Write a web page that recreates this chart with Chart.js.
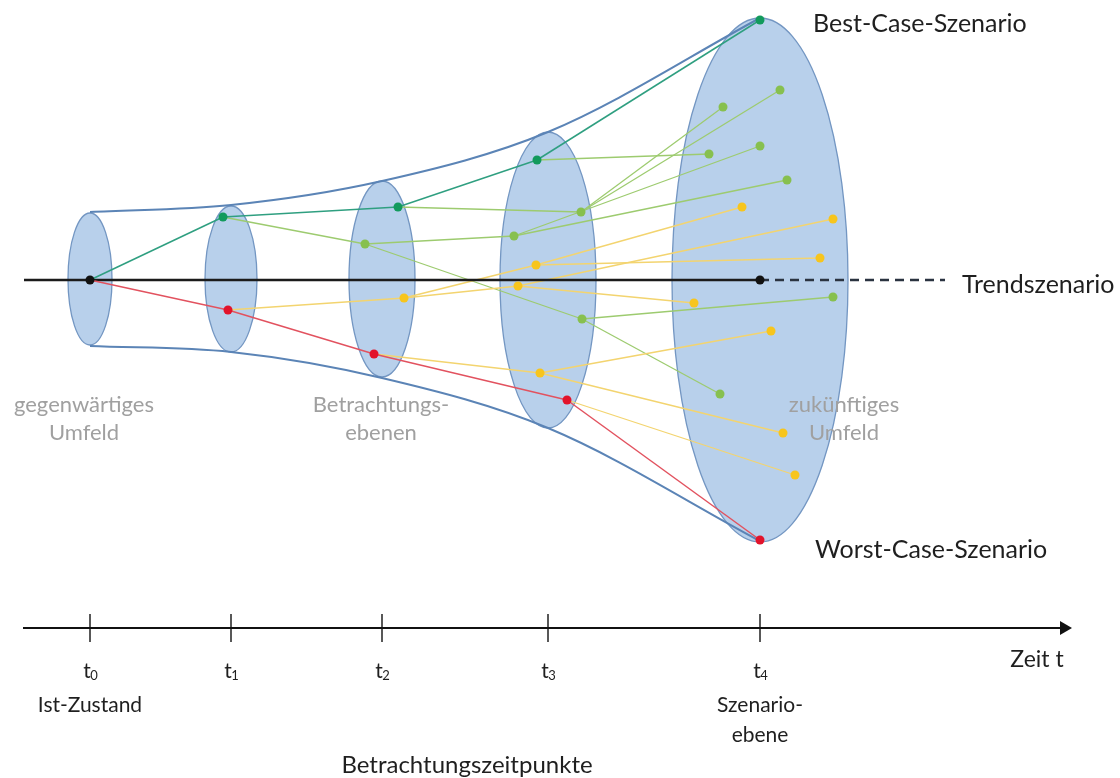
<!DOCTYPE html>
<html lang="de">
<head>
<meta charset="utf-8">
<title>Szenariotrichter</title>
<script src="https://cdn.jsdelivr.net/npm/chart.js@4"></script>
<style>
  html, body { margin: 0; padding: 0; background: #fff; }
  #wrap { width: 1120px; height: 778px; position: relative; }
</style>
</head>
<body>
<div id="wrap"><canvas id="funnel"></canvas></div>
<script>
// Betrachtungszeitpunkte and the cross-section (ellipse) of the funnel at each one
const timeLabels = ["0", "1", "2", "3", "4"];
const timeCaptions = [["Ist-Zustand"], [], [], [], ["Szenario-", "ebene"]];
const levelX = [90, 231, 382, 548, 760];
const levelY = [279, 279, 279, 280, 280];
const levelRx = [22, 26, 33, 48, 88];
const levelRy = [66, 73, 98, 148, 262];

// outline of the funnel at each level
const funnelTop = [212, 205, 181, 132, 18];
const funnelBottom = [346, 352, 378, 428, 541];

// scenario points per level: [x, y, kind]
const level0 = [[90, 280, "trend"]];
const level1 = [[223, 217, "best"], [228, 310, "worst"]];
const level2 = [[398, 207, "best"], [365, 244, "up"], [404, 298, "down"], [374, 354, "worst"]];
const level3 = [
  [537, 160, "best"], [581, 212, "up"], [514, 236, "up"], [536, 265, "down"],
  [518, 286, "down"], [582, 319, "up"], [540, 373, "down"], [567, 400, "worst"]
];
const level4 = [
  [760, 20, "best"], [723, 107, "up"], [780, 90, "up"], [709, 154, "up"], [760, 146, "up"],
  [787, 180, "up"], [742, 207, "down"], [833, 219, "down"], [820, 258, "down"], [760, 280, "trend"],
  [833, 297, "up"], [694, 303, "down"], [771, 331, "down"], [720, 394, "up"], [783, 433, "down"],
  [795, 475, "down"], [760, 540, "worst"]
];
// index of the point on the previous level each point branches from (-1 = none)
const parent1 = [0, 0];
const parent2 = [0, 0, 1, 1];
const parent3 = [0, 0, 1, 2, 2, 1, 3, 3];
const parent4 = [0, 1, 1, 0, 2, 2, 3, 4, 3, -1, 5, 4, 6, 5, 6, 7, 7];

// trend line (solid up to t4, dashed beyond)
const trendY = 280;
const trendSolid = [24, 760];
const trendDashed = [760, 945];

// time axis
const axisY = 628;
const axisRange = [23, 1064];

const levels = [level0, level1, level2, level3, level4];
const parents = [null, parent1, parent2, parent3, parent4];

const kindColor = { best: "#129a5c", up: "#87c04f", down: "#f7c51d", worst: "#e2132b", trend: "#111111" };
const kindLine = { best: "#2f9f80", up: "#9dcb6f", down: "#f3d46f", worst: "#e2525f" };

const datasets = [];

const allPoints = levels.flat();
datasets.push({
  data: allPoints.map(p => ({ x: p[0], y: p[1] })),
  pointBackgroundColor: allPoints.map(p => kindColor[p[2]]),
  pointBorderWidth: 0,
  pointRadius: 4.5,
  showLine: false,
  order: 0
});

for (let k = 1; k < levels.length; k++) {
  levels[k].forEach((p, i) => {
    const j = parents[k][i];
    if (j < 0) return;
    const q = levels[k - 1][j];
    const strong = p[2] === "best" || p[2] === "worst";
    datasets.push({
      type: "line",
      data: [{ x: q[0], y: q[1] }, { x: p[0], y: p[1] }],
      borderColor: kindLine[p[2]],
      borderWidth: strong ? 1.5 : 1.3,
      pointRadius: 0,
      order: strong ? 1 : 2
    });
  });
}

datasets.push({
  type: "line",
  data: trendSolid.map(x => ({ x, y: trendY })),
  borderColor: "#1b1b1b",
  borderWidth: 2.5,
  pointRadius: 0,
  order: 1
});
datasets.push({
  type: "line",
  data: trendDashed.map(x => ({ x, y: trendY })),
  borderColor: "#2a3340",
  borderWidth: 2.5,
  borderDash: [9, 6],
  pointRadius: 0,
  order: 1
});

[funnelTop, funnelBottom].forEach(edge => {
  datasets.push({
    type: "line",
    data: levelX.map((x, i) => ({ x, y: edge[i] })),
    borderColor: "#5b84b6",
    borderWidth: 2,
    pointRadius: 0,
    cubicInterpolationMode: "monotone",
    order: 3
  });
});

// time axis with arrow head and ticks
datasets.push({
  type: "line",
  data: axisRange.map(x => ({ x, y: axisY })),
  borderColor: "#111",
  borderWidth: 2,
  pointRadius: [0, 8],
  pointStyle: "triangle",
  rotation: 90,
  pointBackgroundColor: "#111",
  pointBorderWidth: 0,
  order: 1
});
levelX.forEach(x => {
  datasets.push({
    type: "line",
    data: [{ x, y: axisY - 14 }, { x, y: axisY + 14 }],
    borderColor: "#222",
    borderWidth: 1.5,
    pointRadius: 0,
    order: 1
  });
});

const ellipses = {
  id: "ellipses",
  beforeDatasetsDraw(chart) {
    const { ctx, scales: { x, y } } = chart;
    ctx.save();
    levelX.forEach((cx, i) => {
      const px = x.getPixelForValue(cx);
      const py = y.getPixelForValue(levelY[i]);
      const rx = x.getPixelForValue(cx + levelRx[i]) - px;
      const ry = y.getPixelForValue(levelY[i] + levelRy[i]) - py;
      ctx.beginPath();
      ctx.ellipse(px, py, Math.abs(rx), Math.abs(ry), 0, 0, Math.PI * 2);
      ctx.fillStyle = "#b8d0eb";
      ctx.fill();
      ctx.lineWidth = 1.3;
      ctx.strokeStyle = "#7396c2";
      ctx.stroke();
    });
    ctx.restore();
  }
};

const labels = {
  id: "labels",
  afterDraw(chart) {
    const { ctx, scales: { x, y } } = chart;
    const put = (text, vx, vy, size, color, align) => {
      ctx.font = size + "px Lato, 'Open Sans', sans-serif";
      ctx.fillStyle = color;
      ctx.textAlign = align || "center";
      ctx.textBaseline = "middle";
      ctx.fillText(text, x.getPixelForValue(vx), y.getPixelForValue(vy));
    };
    const dark = "#1f1f1f";
    ctx.save();
    put("Best-Case-Szenario", 813, 24, 25, dark, "left");
    put("Trendszenario", 962, 285, 25, dark, "left");
    put("Worst-Case-Szenario", 815, 550, 25, dark, "left");

    const grey = "#a0a0a0";
    put("gegenwärtiges", 84, 405, 22, grey);
    put("Umfeld", 84, 433, 22, grey);
    put("Betrachtungs-", 381, 405, 22, grey);
    put("ebenen", 381, 433, 22, grey);
    put("zukünftiges", 844, 405, 22, grey);
    put("Umfeld", 844, 433, 22, grey);

    levelX.forEach((lx, i) => {
      put("t", lx - 3, 671, 21, dark);
      put(timeLabels[i], lx + 4, 676, 13, dark);
      timeCaptions[i].forEach((line, n) => put(line, lx, 705 + n * 30, 21, dark));
    });
    put("Zeit t", 1037, 660, 23, dark);
    put("Betrachtungszeitpunkte", 467, 765, 24, dark);
    ctx.restore();
  }
};

new Chart(document.getElementById("funnel"), {
  type: "scatter",
  data: { datasets },
  options: {
    responsive: true,
    maintainAspectRatio: false,
    animation: false,
    layout: { padding: 0, autoPadding: false },
    scales: {
      x: { type: "linear", min: 0, max: 1120, display: false },
      y: { type: "linear", min: 0, max: 778, reverse: true, display: false }
    },
    plugins: { legend: { display: false }, tooltip: { enabled: false } }
  },
  plugins: [ellipses, labels]
});
</script>
</body>
</html>
